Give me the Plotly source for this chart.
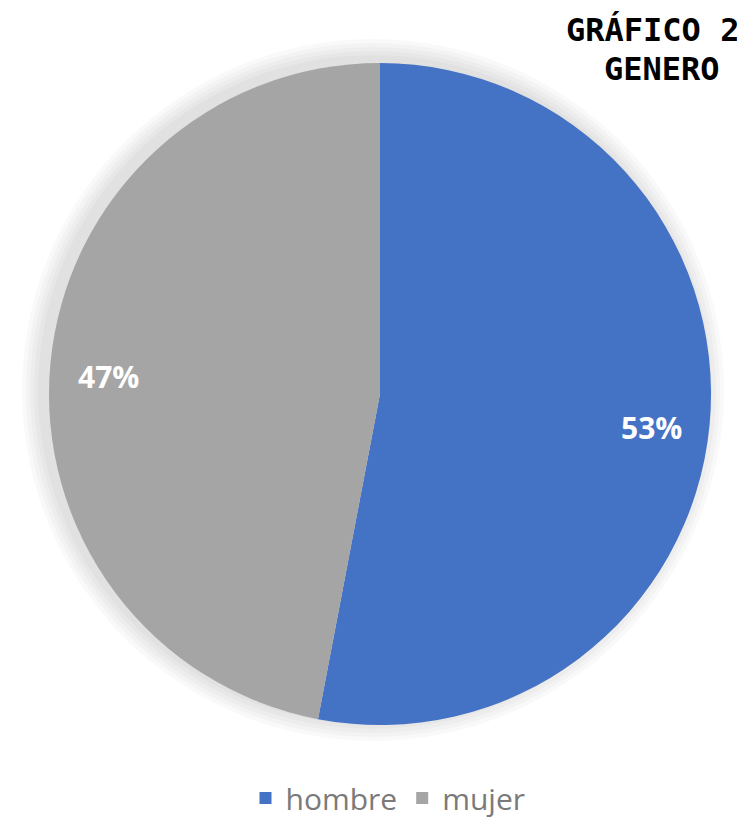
import numpy as np
import plotly.graph_objects as go

labels = ["hombre", "mujer"]
values = [53, 47]
colors = ["#4472C4", "#A5A5A5"]
title_lines = ["GRÁFICO 2", "GENERO"]

# page has an 8px body margin; figure drawn in its own pixel frame
OFF = 8
W, H = 745 - OFF, 820
cx, cy, r = 380 - OFF, 394 - OFF, 331


def px(x):
    return x / W


def py(y):
    return 1 - y / H


fig = go.Figure()
fig.add_trace(go.Pie(
    labels=labels, values=values, sort=False, direction="clockwise", rotation=0,
    marker=dict(colors=colors, line=dict(width=0)),
    textinfo="none",
    domain=dict(x=[px(cx - r), px(cx + r)], y=[py(cy + r), py(cy - r)]),
    hoverinfo="label+percent",
))

# percentage labels placed along each slice's mid-angle
total = float(sum(values))
start = 0.0
for v in values:
    mid = (start + v / 2) / total * 2 * np.pi
    start += v
    lx = cx + 0.823 * r * np.sin(mid)
    ly = cy - 0.823 * r * np.cos(mid)
    fig.add_annotation(text=f"<b>{round(v / total * 100)}%</b>", xref="paper", yref="paper",
                       x=px(lx), y=py(ly), xanchor="center", yanchor="middle",
                       yshift=-8, showarrow=False,
                       font=dict(family="Open Sans", size=30, color="white"))

# soft shadow behind the pie (stacked translucent discs)
for k in range(1, 6):
    g = 4 * k
    fig.add_shape(type="circle", xref="paper", yref="paper", layer="below",
                  x0=px(cx - 7 - r - g), x1=px(cx - 7 + r + g),
                  y0=py(cy - 4 + r + g), y1=py(cy - 4 - r - g),
                  fillcolor="rgba(0,0,0,0.022)", line=dict(width=0))

# title (two lines)
fig.add_annotation(text=f"<b>{title_lines[0]}</b>", xref="paper", yref="paper",
                   x=px(741 - OFF), y=py(8.5 - OFF), xanchor="right", yanchor="top",
                   showarrow=False,
                   font=dict(family="DejaVu Sans Mono", size=32, color="black"))
fig.add_annotation(text=f"<b>{title_lines[1]}</b>", xref="paper", yref="paper",
                   x=px(662 - OFF), y=py(47.5 - OFF), xanchor="center", yanchor="top",
                   showarrow=False,
                   font=dict(family="DejaVu Sans Mono", size=32, color="black"))

fig.update_layout(
    width=W, height=H, margin=dict(l=0, r=0, t=0, b=0, autoexpand=False),
    paper_bgcolor="white", plot_bgcolor="white",
    showlegend=True,
    legend=dict(orientation="h", x=px(388 - OFF), xanchor="center",
                y=py(772 - OFF), yanchor="top",
                font=dict(family="Open Sans", size=30, color="#7a7a7a"),
                itemsizing="constant"),
)

fig.write_html("out.html")
